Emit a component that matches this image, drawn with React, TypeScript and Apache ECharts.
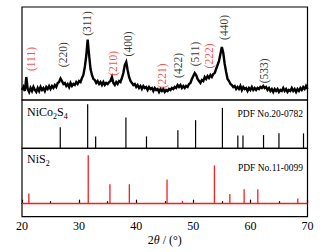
import React, { useEffect, useRef } from "react";
import * as echarts from "echarts";

// XRD scan of the sample (2θ from 20° in 0.25° steps), arbitrary intensity
const SCAN_START = 20;
const SCAN_STEP = 0.25;
const scanIntensity = [
  10, 13, 9, 23, 11, 8, 12, 9, 13, 10,
  8, 12, 9, 13, 10, 12, 9, 13, 11, 14,
  11, 14, 12, 15, 13, 17, 18, 21.5, 19, 16,
  17, 14, 16, 13, 17, 14, 16, 15, 18, 16,
  19, 18, 22, 25, 33, 44, 60.5, 45, 31, 25,
  21, 20, 17, 19, 16, 18, 15, 18, 15, 17,
  16, 18, 19, 23, 17, 15, 18, 16, 19, 18,
  22, 27, 35, 38, 30, 23, 19, 17, 15, 16,
  13, 15, 12, 14, 11, 14, 12, 13, 10, 13,
  11, 12, 9, 12, 10, 11, 8, 11, 9, 11,
  8, 10, 9, 11, 10, 12, 11, 13, 12, 15,
  13, 15, 12, 14, 12, 14, 13, 16, 17, 21,
  24, 27, 25, 21, 19, 17, 20, 19, 23, 21,
  24, 22, 25, 23, 26, 27, 31, 35, 39, 46,
  53, 47, 36, 28, 21, 19, 16, 15, 13, 14,
  11, 13, 11, 14, 10, 13, 11, 12, 9, 12,
  10, 13, 10, 12, 10, 12, 11, 13, 12, 14,
  12, 13, 10, 12, 9, 11, 8, 11, 9, 11,
  8, 10, 9, 12, 9, 11, 8, 10, 9, 12,
  9, 11, 8, 11, 9, 12, 10, 13, 11, 14,
  11,
];

// Peak annotations (hkl), their 2θ and height of label centre, and phase
const peakLabels = ["(111)", "(220)", "(311)", "(210)", "(400)", "(221)", "(422)", "(511)", "(222)", "(440)", "(533)"];
const peakLabelX = [21.5, 27.1, 31.45, 35.85, 38.6, 44.55, 47.25, 50.3, 52.8, 55.3, 62.3];
const peakLabelY = [41, 45.3, 76.5, 36.7, 56, 24.2, 34.5, 46, 44, 72.5, 29.2];
const peakPhase = ["NiS2", "NiCo2S4", "NiCo2S4", "NiS2", "NiCo2S4", "NiS2", "NiCo2S4", "NiCo2S4", "NiS2", "NiCo2S4", "NiCo2S4"];

// NiCo2S4 reference PDF No.20-0782
const nicoPos = [26.7, 31.5, 32.9, 38.2, 41.8, 47.3, 50.4, 55.1, 57.8, 58.7, 62.3, 65.0, 69.3];
const nicoInt = [48, 100, 27, 70, 27, 41, 64, 92, 29, 29, 30, 34, 34];

// NiS2 reference PDF No.11-0099
const nisPos = [21.2, 31.6, 35.4, 38.8, 45.4, 48.1, 53.7, 56.4, 58.9, 61.3, 68.3];
const nisInt = [21, 100, 40, 40, 50, 6, 79, 20, 30, 30, 11];

const xTicks = [20, 30, 40, 50, 60, 70];

const RED = "#f02020";
const BLACK = "#000000";
const SERIF = "'Liberation Serif', 'Times New Roman', serif";

export default function App() {
  const ref = useRef<HTMLDivElement>(null);

  useEffect(() => {
    if (!ref.current) return;
    const chart = echarts.init(ref.current, undefined, { renderer: "svg" });

    const scanData = scanIntensity.map((v, i) => [SCAN_START + i * SCAN_STEP, v]);
    const labelData = peakLabels.map((t, i) => ({
      value: [peakLabelX[i], peakLabelY[i], t],
      label: { color: peakPhase[i] === "NiS2" ? RED : BLACK },
    }));

    const gridBase = { left: 22, right: 16.5, show: true, borderColor: BLACK, borderWidth: 1.2, backgroundColor: "transparent" };
    const hiddenX = (idx: number) => ({
      type: "value" as const, gridIndex: idx, min: xTicks[0], max: xTicks[xTicks.length - 1], show: false,
    });

    chart.setOption({
      animation: false,
      grid: [
        { ...gridBase, top: 7, height: 93 },
        { ...gridBase, top: 100, height: 48.3 },
        { ...gridBase, top: 148.3, height: 68.4 },
      ],
      xAxis: [
        hiddenX(0),
        hiddenX(1),
        {
          type: "value", gridIndex: 2, min: 20, max: 70, interval: 10,
          axisLine: { show: true, lineStyle: { color: BLACK, width: 1.2 } },
          axisTick: { show: true, inside: true, length: 4, lineStyle: { color: BLACK, width: 1.2 } },
          minorTick: { show: true, splitNumber: 2, length: 2.5, lineStyle: { color: BLACK, width: 1.2 } },
          splitLine: { show: false },
          axisLabel: { color: BLACK, fontFamily: SERIF, fontSize: 12, margin: 3 },
          name: "{a|2}{b|θ}{a| / (°)}",
          nameLocation: "middle",
          nameGap: 17,
          nameTextStyle: {
            rich: {
              a: { fontFamily: SERIF, fontSize: 12, color: BLACK },
              b: { fontFamily: SERIF, fontSize: 12, color: BLACK, fontStyle: "italic" },
            },
          },
        },
      ],
      yAxis: [
        { type: "value", gridIndex: 0, min: 0, max: 93, show: false },
        { type: "value", gridIndex: 1, min: 0, max: 109.8, show: false },
        { type: "value", gridIndex: 2, min: -26.86, max: 114.46, show: false },
      ],
      series: [
        {
          type: "line", xAxisIndex: 0, yAxisIndex: 0, data: scanData,
          symbol: "none", lineStyle: { color: "#000", width: 2.4, join: "miter" },
        },
        {
          type: "scatter", xAxisIndex: 0, yAxisIndex: 0, data: labelData,
          symbol: "circle", symbolSize: 2, itemStyle: { color: "transparent" },
          labelLayout: { hideOverlap: false },
          label: {
            show: true, position: "inside", rotate: 90, align: "center", verticalAlign: "middle",
            fontFamily: SERIF, fontSize: 11.5, textBorderWidth: 0,
            formatter: (p: any) => p.value[2],
          },
          z: 5,
        },
        {
          type: "bar", xAxisIndex: 1, yAxisIndex: 1,
          data: nicoPos.map((x, i) => [x, nicoInt[i]]),
          barWidth: 1.2, itemStyle: { color: BLACK },
        },
        {
          type: "bar", xAxisIndex: 2, yAxisIndex: 2,
          data: nisPos.map((x, i) => [x, nisInt[i]]),
          barWidth: 1.3, itemStyle: { color: RED },
          markLine: {
            silent: true, symbol: "none", label: { show: false },
            lineStyle: { color: RED, width: 1.4, type: "solid" },
            data: [{ yAxis: 0 }],
          },
        },
      ],
      graphic: [
        {
          type: "text", left: 27, top: 106,
          style: {
            text: "{n|NiCo}{s|2}{n|S}{s|4}",
            rich: {
              n: { fontFamily: SERIF, fontSize: 12, lineHeight: 16, fill: BLACK, verticalAlign: "middle" },
              s: { fontFamily: SERIF, fontSize: 8, lineHeight: 8, fill: BLACK, verticalAlign: "bottom" },
            },
          },
        },
        {
          type: "text", right: 21, top: 109,
          style: { text: "PDF No.20-0782", font: `9.5px ${SERIF}`, fill: BLACK },
        },
        {
          type: "text", left: 27, top: 153,
          style: {
            text: "{n|NiS}{s|2}",
            rich: {
              n: { fontFamily: SERIF, fontSize: 12, lineHeight: 16, fill: BLACK, verticalAlign: "middle" },
              s: { fontFamily: SERIF, fontSize: 8, lineHeight: 8, fill: BLACK, verticalAlign: "bottom" },
            },
          },
        },
        {
          type: "text", right: 21, top: 163,
          style: { text: "PDF No.11-0099", font: `9.5px ${SERIF}`, fill: BLACK },
        },
      ],
    });

    return () => chart.dispose();
  }, []);

  return (
    <div
      ref={ref}
      style={{ position: "fixed", left: 0, top: 0, width: 324, height: 252, background: "#fff" }}
    />
  );
}
